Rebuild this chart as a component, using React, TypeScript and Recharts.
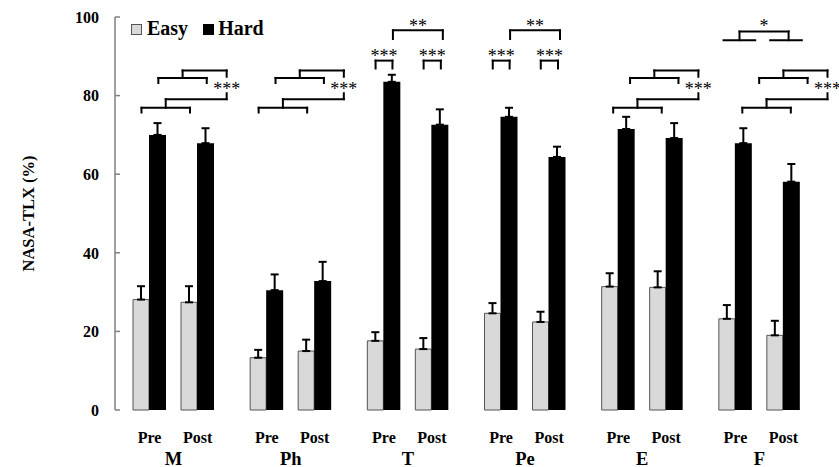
import React from 'react';
import { ComposedChart, Bar, XAxis, YAxis, ErrorBar, ReferenceLine, ReferenceDot, Legend } from 'recharts';

// ---- data ----
const groups = ['M', 'Ph', 'T', 'Pe', 'E', 'F'];
const phaseLabels = ['Pre', 'Post'];
const seriesNames = ['Easy', 'Hard'];
const yTicks = [0, 20, 40, 60, 80, 100];

const preEasy = [28.1, 13.3, 17.6, 24.6, 31.4, 23.2];
const preEasyErr = [3.4, 2.0, 2.2, 2.6, 3.4, 3.5];
const preHard = [70.0, 30.5, 83.5, 74.6, 71.5, 67.9];
const preHardErr = [3.0, 4.0, 1.8, 2.3, 3.1, 3.8];
const postEasy = [27.4, 15.0, 15.5, 22.4, 31.2, 19.0];
const postEasyErr = [4.1, 2.9, 2.8, 2.6, 4.1, 3.7];
const postHard = [67.9, 32.8, 72.6, 64.4, 69.2, 58.1];
const postHardErr = [3.8, 4.9, 3.9, 2.6, 3.8, 4.5];

const mainEffectGroups = ['M', 'Ph', 'E', 'F'];
const mainEffectLabel = '***';
const simpleEffectGroups = ['T', 'Pe'];
const simpleEffectLabels = ['***', '***', '**'];
const prePostGroup = 'F';
const prePostLabel = '*';

// ---- annotation layout (group units / y values) ----
const ME_SHIFT: Record<string, number> = { M: 0, Ph: 0, E: 0.026, F: 0.128 };
const mainEffectShape = {
  polylines: [
    [[0.226, 75.7], [0.226, 76.9], [0.640, 76.9], [0.640, 75.7]],
    [[0.433, 76.9], [0.433, 79.1], [0.953, 79.1], [0.953, 80.6]],
    [[0.370, 83.2], [0.370, 84.5], [0.783, 84.5], [0.783, 83.2]],
    [[0.577, 84.5], [0.577, 86.4], [0.953, 86.4], [0.953, 84.8]],
  ],
  label: [0.953, 82.4],
};
const simpleEffectShape = {
  polylines: [
    [[0.224, 86.9], [0.224, 88.9], [0.368, 88.9], [0.368, 86.9]],
    [[0.634, 86.9], [0.634, 88.9], [0.781, 88.9], [0.781, 86.9]],
    [[0.372, 94.4], [0.372, 96.6], [0.798, 96.6], [0.798, 94.4]],
  ],
  labels: [[0.296, 90.8], [0.708, 90.8], [0.585, 98.3]],
};
const prePostShape = {
  polylines: [
    [[0.194, 94.1], [0.464, 94.1]],
    [[0.330, 94.1], [0.330, 96.3], [0.749, 96.3], [0.749, 94.1]],
    [[0.592, 94.1], [0.862, 94.1]],
  ],
  label: [0.540, 98.4],
};

const chartData = groups.map((g, i) => ({
  group: g,
  center: i + 0.5,
  preEasy: preEasy[i],
  preEasyErr: [0, preEasyErr[i]],
  preHard: preHard[i],
  preHardErr: [0, preHardErr[i]],
  gap: 0,
  postEasy: postEasy[i],
  postEasyErr: [0, postEasyErr[i]],
  postHard: postHard[i],
  postHardErr: [0, postHardErr[i]],
}));

const FONT = '"Liberation Serif", "Times New Roman", serif';
const EASY_FILL = '#d9d9d9';
const EASY_STROKE = '#555555';
const AXIS_GRAY = '#808080';

type Seg = { key: string; pts: number[][] };
const segments: Seg[] = [];
const texts: { key: string; x: number; y: number; t: string }[] = [];

mainEffectGroups.forEach((g) => {
  const gi = groups.indexOf(g);
  const s = ME_SHIFT[g] || 0;
  mainEffectShape.polylines.forEach((pl, pi) => {
    for (let k = 0; k < pl.length - 1; k++) {
      segments.push({
        key: `me-${g}-${pi}-${k}`,
        pts: [[gi + s + pl[k][0], pl[k][1]], [gi + s + pl[k + 1][0], pl[k + 1][1]]],
      });
    }
  });
  texts.push({ key: `me-t-${g}`, x: gi + s + mainEffectShape.label[0], y: mainEffectShape.label[1], t: mainEffectLabel });
});
simpleEffectGroups.forEach((g) => {
  const gi = groups.indexOf(g);
  simpleEffectShape.polylines.forEach((pl, pi) => {
    for (let k = 0; k < pl.length - 1; k++) {
      segments.push({
        key: `se-${g}-${pi}-${k}`,
        pts: [[gi + pl[k][0], pl[k][1]], [gi + pl[k + 1][0], pl[k + 1][1]]],
      });
    }
  });
  simpleEffectShape.labels.forEach((lb, li) => {
    texts.push({ key: `se-t-${g}-${li}`, x: gi + lb[0], y: lb[1], t: simpleEffectLabels[li] });
  });
});
{
  const gi = groups.indexOf(prePostGroup);
  prePostShape.polylines.forEach((pl, pi) => {
    for (let k = 0; k < pl.length - 1; k++) {
      segments.push({
        key: `pp-${pi}-${k}`,
        pts: [[gi + pl[k][0], pl[k][1]], [gi + pl[k + 1][0], pl[k + 1][1]]],
      });
    }
  });
  texts.push({ key: 'pp-t', x: gi + prePostShape.label[0], y: prePostShape.label[1], t: prePostLabel });
}

const XTick = (props: any) => {
  const { x, y, payload } = props;
  return (
    <g>
      <text x={x - 24} y={y + 33} textAnchor="middle" fontFamily={FONT} fontWeight="bold" fontSize={16} fill="#000">
        {phaseLabels[0]}
      </text>
      <text x={x + 24} y={y + 33} textAnchor="middle" fontFamily={FONT} fontWeight="bold" fontSize={16} fill="#000">
        {phaseLabels[1]}
      </text>
      <text x={x} y={y + 54.5} textAnchor="middle" fontFamily={FONT} fontWeight="bold" fontSize={18.5} fill="#000">
        {payload.value}
      </text>
    </g>
  );
};

const YTick = (props: any) => {
  const { x, y, payload } = props;
  return (
    <g>
      <line x1={x + 16} x2={x + 21} y1={y} y2={y} stroke={AXIS_GRAY} strokeWidth={1.5} />
      <text x={x} y={y} dy="0.36em" textAnchor="end" fontFamily={FONT} fontWeight="bold" fontSize={16} fill="#000">
        {payload.value}
      </text>
    </g>
  );
};

const YLabel = (props: any) => {
  const vb = props.viewBox || { x: 0, y: 17, width: 115, height: 393 };
  const cx = vb.x + 34;
  const cy = vb.y + vb.height / 2;
  return (
    <text
      x={cx}
      y={cy}
      transform={`rotate(-90 ${cx} ${cy})`}
      textAnchor="middle"
      fontFamily={FONT}
      fontWeight="bold"
      fontSize={16.5}
      fill="#000"
    >
      NASA-TLX (%)
    </text>
  );
};

const LegendContent = () => (
  <div style={{ fontFamily: FONT, fontWeight: 'bold', fontSize: 20, lineHeight: '20px', whiteSpace: 'nowrap', color: '#000' }}>
    <span
      style={{
        display: 'inline-block',
        width: 9,
        height: 9,
        border: `1px solid ${EASY_STROKE}`,
        background: EASY_FILL,
        marginRight: 5,
        verticalAlign: 'baseline',
      }}
    />
    {seriesNames[0]}
    <span
      style={{
        display: 'inline-block',
        width: 11,
        height: 11,
        background: '#000',
        marginLeft: 15,
        marginRight: 4,
        verticalAlign: 'baseline',
      }}
    />
    {seriesNames[1]}
  </div>
);

const StarShape = (t: string) => (p: any) => (
  <text
    x={p.cx}
    y={p.cy}
    dy={8.5}
    textAnchor="middle"
    fontFamily={FONT}
    fontSize={18}
    fill="#000"
  >
    {t}
  </text>
);

export default function App() {
  return (
    <div style={{ position: 'fixed', left: 0, top: 0, background: '#fff' }}>
      <ComposedChart
        width={839}
        height={467}
        data={chartData}
        margin={{ top: 17, right: 21, bottom: 0, left: 0 }}
        barGap={0}
        barCategoryGap={0}
      >
        <XAxis
          dataKey="group"
          type="category"
          axisLine={false}
          tickLine={false}
          tickSize={0}
          tickMargin={0}
          height={57}
          interval={0}
          tick={<XTick />}
        />
        <XAxis
          xAxisId="ann"
          dataKey="center"
          type="number"
          scale="linear"
          domain={[0, groups.length]}
          allowDataOverflow
          hide
        />
        <YAxis
          type="number"
          domain={[0, 100]}
          ticks={yTicks}
          width={115}
          tickLine={false}
          tickSize={0}
          tickMargin={16}
          axisLine={{ stroke: AXIS_GRAY, strokeWidth: 1.5 }}
          tick={<YTick />}
          label={<YLabel />}
        />
        <Legend
          layout="horizontal"
          verticalAlign="middle"
          align="center"
          wrapperStyle={{ top: 17.5, left: 131, width: 'auto' }}
          content={<LegendContent />}
        />
        <Bar dataKey="preEasy" barSize={16} fill={EASY_FILL} stroke={EASY_STROKE} strokeWidth={1} isAnimationActive={false}>
          <ErrorBar dataKey="preEasyErr" direction="y" width={4} stroke="#000" strokeWidth={2} />
        </Bar>
        <Bar dataKey="preHard" barSize={17} fill="#000" isAnimationActive={false}>
          <ErrorBar dataKey="preHardErr" direction="y" width={4} stroke="#000" strokeWidth={2} />
        </Bar>
        <Bar dataKey="gap" barSize={15} fill="none" stroke="none" isAnimationActive={false} />
        <Bar dataKey="postEasy" barSize={16} fill={EASY_FILL} stroke={EASY_STROKE} strokeWidth={1} isAnimationActive={false}>
          <ErrorBar dataKey="postEasyErr" direction="y" width={4} stroke="#000" strokeWidth={2} />
        </Bar>
        <Bar dataKey="postHard" barSize={17} fill="#000" isAnimationActive={false}>
          <ErrorBar dataKey="postHardErr" direction="y" width={4} stroke="#000" strokeWidth={2} />
        </Bar>
        {segments.map((s) => (
          <ReferenceLine
            key={s.key}
            xAxisId="ann"
            ifOverflow="visible"
            segment={[
              { x: s.pts[0][0], y: s.pts[0][1] },
              { x: s.pts[1][0], y: s.pts[1][1] },
            ]}
            stroke="#000"
            strokeWidth={2}
            strokeLinecap="square"
          />
        ))}
        {texts.map((t) => (
          <ReferenceDot
            key={t.key}
            xAxisId="ann"
            x={t.x}
            y={t.y}
            r={0}
            ifOverflow="visible"
            shape={StarShape(t.t)}
          />
        ))}
      </ComposedChart>
    </div>
  );
}
